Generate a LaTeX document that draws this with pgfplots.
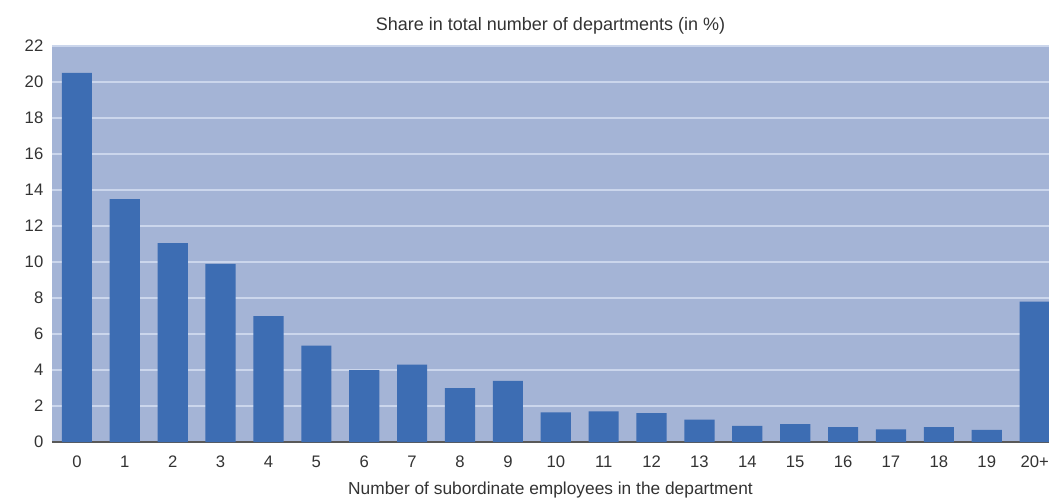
\documentclass[border=0pt]{standalone}
\usepackage{fontspec}
\setmainfont{Liberation Sans}
\usepackage{pgfplots}
\pgfplotsset{compat=1.18}
\usetikzlibrary{calc}
\definecolor{bgc}{HTML}{A4B4D6}
\definecolor{barc}{HTML}{3D6DB3}
\definecolor{gridc}{HTML}{CBD6EC}
\definecolor{txt}{HTML}{333333}
\begin{document}
\begin{tikzpicture}
\begin{axis}[
  name=ax,
  scale only axis,
  width=747.75pt, height=297pt,
  xmin=-0.52, xmax=20.3,
  ymin=0, ymax=22,
  ytick={0,2,...,22},
  xtick={0,...,20},
  xticklabels={0,1,2,3,4,5,6,7,8,9,10,11,12,13,14,15,16,17,18,19,20+},
  major tick length=0pt,
  axis x line*=bottom, axis y line*=left,
  y axis line style={draw=none},
  x axis line style={draw=black!65, line width=1.5pt, -},
  axis background/.style={fill=bgc},
  ymajorgrids,
  grid style={draw=gridc, line width=1.3pt},
  ticklabel style={font=\fontsize{12.5}{14}\selectfont, text=txt},
  yticklabel style={xshift=-3pt},
  xticklabel style={yshift=-7pt},
  /pgf/number format/assume math mode=true,
  title={Share in total number of departments (in \%)},
  title style={font=\fontsize{13.5}{15}\selectfont, text=txt, yshift=-1pt},
  xlabel={Number of subordinate employees in the department},
  xlabel style={font=\fontsize{13}{15}\selectfont, text=txt, yshift=-4pt},
  clip=true,
]
\addplot[ybar, bar width=0.63, fill=barc, draw=none] coordinates {
(0,20.5) (1,13.5) (2,11.05) (3,9.9) (4,7.0) (5,5.35) (6,4.0) (7,4.3) (8,3.0) (9,3.4)
(10,1.65) (11,1.7) (12,1.6) (13,1.25) (14,0.9) (15,1.0) (16,0.83) (17,0.7) (18,0.83) (19,0.67) (20,7.8)
};
\end{axis}
\pgfresetboundingbox
\path[use as bounding box] ($(ax.south west)+(-39pt,-43.5pt)$) rectangle ($(ax.north east)+(0pt,34.5pt)$);
\end{tikzpicture}
\end{document}
